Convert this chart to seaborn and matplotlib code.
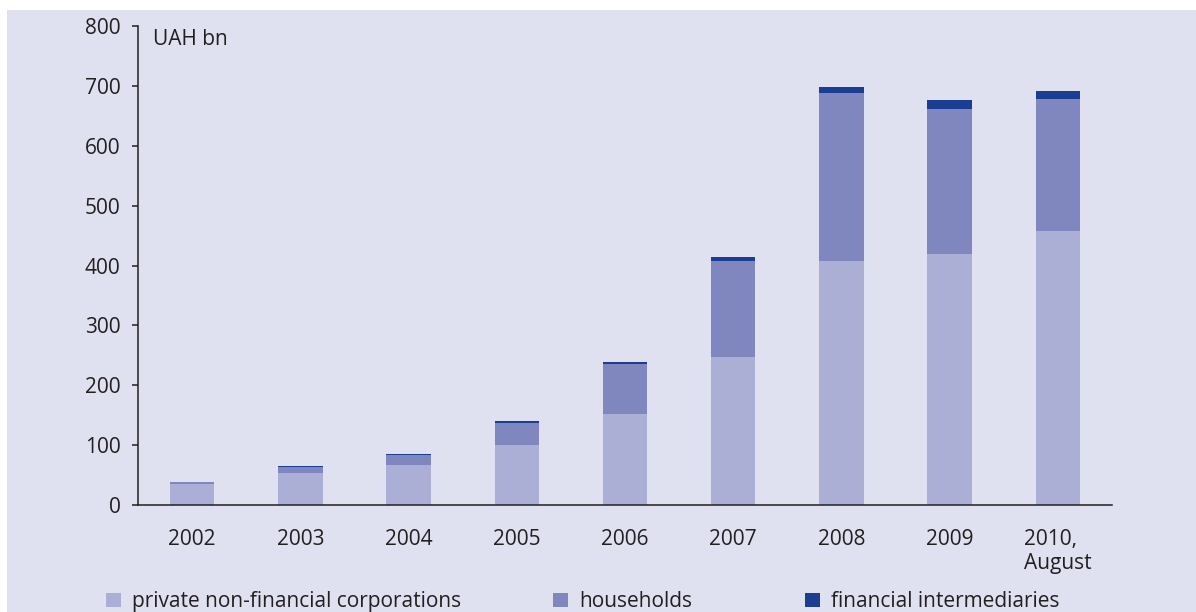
import numpy as np
import pandas as pd
import matplotlib
matplotlib.use("Agg")
import matplotlib.pyplot as plt
from matplotlib.patches import Rectangle, Patch
import seaborn as sns

# values (UAH bn)
YEARS = ["2002", "2003", "2004", "2005", "2006", "2007", "2008", "2009", "2010,\nAugust"]
PRIVATE = [35, 53, 67, 100, 152, 248, 407, 420, 458]
HOUSEHOLDS = [3, 11, 17, 37, 83, 160, 281, 242, 220]
FIN_INTERMED = [1, 1.5, 1.5, 3, 3, 7, 10, 15, 14]

SERIES = ["private non-financial corporations", "households", "financial intermediaries"]
COLORS = ["#abafd6", "#8087be", "#1b3d94"]
BG = "#dfe1f0"
INK = "#231f20"

sns.set_theme(style="white")
plt.rcParams["font.family"] = ["Open Sans", "DejaVu Sans"]

df = pd.DataFrame({"year": YEARS, "private": PRIVATE,
                   "households": HOUSEHOLDS, "fin": FIN_INTERMED})

fig = plt.figure(figsize=(11.96, 6.12), dpi=100)
fig.patch.set_facecolor("white")
fig.add_artist(Rectangle((7 / 1196, 0), 1, 1 - 10 / 612, transform=fig.transFigure,
                         facecolor=BG, edgecolor="none", zorder=-10))

ax = fig.add_axes([138 / 1196, 1 - 505 / 612, 974 / 1196, 479 / 612])
ax.set_facecolor(BG)

bottom = np.zeros(len(YEARS))
for col, color in zip(["private", "households", "fin"], COLORS):
    sns.barplot(data=df, x="year", y=col, order=YEARS, color=color, width=0.41,
                bottom=bottom.copy(), saturation=1, ax=ax, linewidth=0)
    bottom += df[col].values

ax.set_xlim(-0.5, len(YEARS) - 0.5)
ax.set_ylim(0, 800)
ax.set_yticks(range(0, 801, 100))
ax.set_xlabel("")
ax.set_ylabel("")

for s in ["top", "right"]:
    ax.spines[s].set_visible(False)
for s in ["left", "bottom"]:
    ax.spines[s].set_color(INK)
    ax.spines[s].set_linewidth(1.1)

ax.set_xticks(np.arange(-0.5, len(YEARS)), minor=True)
ax.tick_params(axis="x", which="major", length=0, pad=17, labelsize=15, labelcolor=INK)
ax.tick_params(axis="x", which="minor", length=5, width=1.1, color=INK, direction="out")
ax.tick_params(axis="y", length=4.5, width=1.1, color=INK, pad=8, labelsize=15,
               labelcolor=INK, left=True)
for lbl in ax.get_xticklabels():
    lbl.set_multialignment("left")

ax.text(0.0154, 0.971, "UAH bn", transform=ax.transAxes, fontsize=15,
        color=INK, va="center", ha="left")

# legend entries sit at uneven spacing in the original, so place each one
for name, color, x0 in zip(SERIES, COLORS, [106, 553, 805]):
    fig.legend([Patch(facecolor=color, edgecolor="none")], [name], loc="center left",
               bbox_to_anchor=(x0 / 1196, 0.017), frameon=False, fontsize=15,
               handlelength=0.7, handleheight=0.7, handletextpad=0.55,
               borderpad=0, borderaxespad=0, labelcolor=INK)

fig.savefig("out.png", dpi=100, facecolor=fig.get_facecolor())
